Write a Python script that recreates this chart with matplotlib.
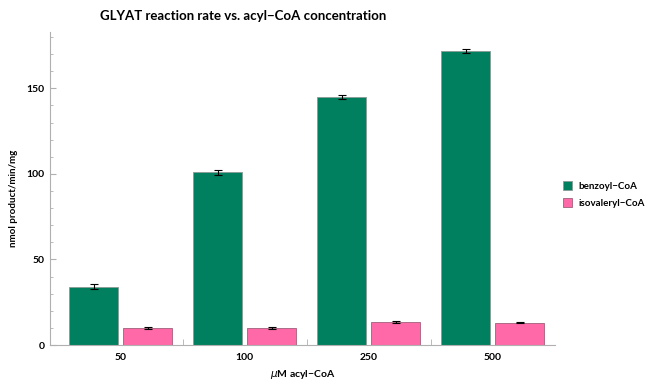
import matplotlib
matplotlib.use("Agg")
import matplotlib.pyplot as plt
import numpy as np
from matplotlib.ticker import MultipleLocator

plt.rcParams['font.family'] = ['Lato', 'DejaVu Sans']

concentrations = ["50", "100", "250", "500"]
benzoyl = [34, 101, 145, 172]
benzoyl_err = [1.5, 1.5, 1.3, 1.3]
isovaleryl = [10, 10, 13.5, 13]
isovaleryl_err = [0.4, 0.5, 0.4, 0.4]

green = "#00805E"
pink = "#FF69A8"

fig = plt.figure(figsize=(6.49, 3.8), dpi=100)
ax = fig.add_axes([0.077, 0.092, 0.778, 0.824])

x = np.arange(len(concentrations))
w = 0.395
off = 0.2175
ax.bar(x - off, benzoyl, w, color=green, edgecolor="#8a9a94", linewidth=0.6,
       yerr=benzoyl_err, error_kw=dict(ecolor="black", elinewidth=0.8, capsize=3, capthick=0.8),
       label="benzoyl\u2212CoA")
ax.bar(x + off, isovaleryl, w, color=pink, edgecolor="#a0607a", linewidth=0.6,
       yerr=isovaleryl_err, error_kw=dict(ecolor="black", elinewidth=0.8, capsize=3, capthick=0.8),
       label="isovaleryl\u2212CoA")

ax.set_xlim(-0.57, 3.5)
ax.set_ylim(0, 183)
for s in ["top", "right"]:
    ax.spines[s].set_visible(False)
for s in ["left", "bottom"]:
    ax.spines[s].set_color("#b0b0b0")
    ax.spines[s].set_linewidth(0.8)

ax.set_xticks(x)
ax.set_xticklabels(concentrations, fontsize=7.5, fontweight="bold")
ax.set_xticks([0.5, 1.5, 2.5], minor=True)
ax.tick_params(axis="x", which="major", length=0, pad=6)
ax.tick_params(axis="x", which="minor", direction="in", length=4, color="#b0b0b0")
ax.yaxis.set_major_locator(MultipleLocator(50))
ax.yaxis.set_minor_locator(MultipleLocator(10))
ax.tick_params(axis="y", which="major", direction="in", length=4, color="#b0b0b0", labelsize=7.5, pad=4)
ax.tick_params(axis="y", which="minor", direction="in", length=2.5, color="#b0b0b0")
for lab in ax.get_yticklabels():
    lab.set_fontweight("bold")

ax.set_ylabel("nmol product/min/mg", fontsize=7, fontweight="bold")
ax.yaxis.set_label_coords(-0.064, 0.47)
ax.set_xlabel("$\\mu$M acyl\u2212CoA", fontsize=7.5, fontweight="bold")
ax.xaxis.set_label_coords(0.5, -0.073)
fig.suptitle("GLYAT reaction rate vs. acyl\u2212CoA concentration", fontsize=9.5,
             fontweight="bold", x=0.375, y=0.975)

fig.legend(loc="center left", bbox_to_anchor=(0.8675, 0.488), frameon=False,
           borderaxespad=0, borderpad=0,
           handlelength=0.95, handleheight=0.95, handletextpad=0.6,
           labelspacing=0.75, prop=dict(weight="bold", size=7))

fig.savefig("out.png", dpi=100)
